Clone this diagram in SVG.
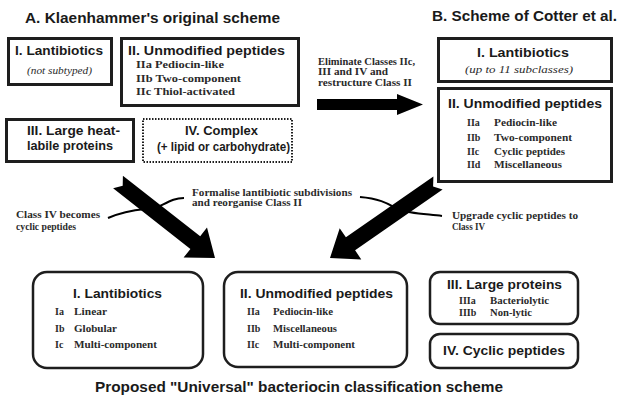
<svg xmlns="http://www.w3.org/2000/svg" width="620" height="399" viewBox="0 0 620 399">
<style>
.bg{fill:#fff}
.box{fill:#fff;stroke:#1e1e1e;stroke-width:3}
.dot{fill:#fff;stroke:#1e1e1e;stroke-width:2;stroke-dasharray:1.5 1.5}
.rbox{fill:#fff;stroke:#1e1e1e;stroke-width:2.5}
.h{font-family:"Liberation Sans",Arial,sans-serif;font-weight:bold;font-size:15px;fill:#1a1a1a}
.t{font-family:"Liberation Sans",Arial,sans-serif;font-weight:bold;font-size:13.5px;fill:#1a1a1a}
.s{font-family:"Liberation Serif","Times New Roman",serif;font-weight:bold;font-size:10px;fill:#2a2a2a}
.it{font-family:"Liberation Serif","Times New Roman",serif;font-style:italic;font-size:10px;fill:#2a2a2a}
.a{font-family:"Liberation Serif","Times New Roman",serif;font-weight:bold;font-size:9.5px;fill:#2a2a2a}
.arr{fill:#000}
.cur{fill:none;stroke:#000;stroke-width:2}
</style>
<rect class="bg" x="0" y="0" width="620" height="399"/>
<text class="h" x="25" y="23" textLength="255" lengthAdjust="spacingAndGlyphs">A. Klaenhammer's original scheme</text>
<text class="h" x="432" y="21" textLength="185" lengthAdjust="spacingAndGlyphs">B. Scheme of Cotter et al.</text>
<text class="h" x="95" y="392" textLength="408" lengthAdjust="spacingAndGlyphs">Proposed "Universal" bacteriocin classification scheme</text>

<g id="connectors">
<path class="cur" d="M108,218 C135,206 150,211 160,206 S175,198 184,198"/>
<path class="cur" d="M360,197 C385,199 392,207 400,210 S425,214 442,216"/>
<polygon class="arr" points="317,99 397,99 397,94 423,104.5 397,115 397,110 317,110"/>
<polygon class="arr" points="122.9,175.7 200.2,236.3 207,227.6 215,258 183.6,257.6 190.4,248.9 113.1,188.3 122.7,185.7"/>
<polygon class="arr" points="433.4,176.4 345.9,237.2 339.7,228.2 330,258 361.3,259.4 355.1,250.3 442.6,189.6 433.1,186.4"/>
<text class="a" x="318" y="65" textLength="97" lengthAdjust="spacingAndGlyphs">Eliminate Classes IIc,</text>
<text class="a" x="318" y="75" textLength="70" lengthAdjust="spacingAndGlyphs">III and IV and</text>
<text class="a" x="318" y="86" textLength="94" lengthAdjust="spacingAndGlyphs">restructure Class II</text>
<text class="a" x="192" y="196" textLength="160" lengthAdjust="spacingAndGlyphs">Formalise lantibiotic subdivisions</text>
<text class="a" x="192" y="206" textLength="110" lengthAdjust="spacingAndGlyphs">and reorganise Class II</text>
<text class="a" x="16" y="218" textLength="84" lengthAdjust="spacingAndGlyphs">Class IV becomes</text>
<text class="a" x="16" y="230" textLength="60" lengthAdjust="spacingAndGlyphs">cyclic peptides</text>
<text class="a" x="452" y="219" textLength="126" lengthAdjust="spacingAndGlyphs">Upgrade cyclic peptides to</text>
<text class="a" x="452" y="230" textLength="33" lengthAdjust="spacingAndGlyphs">Class IV</text>
</g>

<g id="a-lantibiotics">
<rect class="box" x="8.5" y="38.5" width="103" height="46"/>
<text class="t" x="15" y="55" textLength="88" lengthAdjust="spacingAndGlyphs">I. Lantibiotics</text>
<text class="it" x="27" y="74" textLength="65" lengthAdjust="spacingAndGlyphs">(not subtyped)</text>
</g>
<g id="a-unmodified">
<rect class="box" x="121.5" y="38.5" width="177" height="67"/>
<text class="t" x="128" y="55" textLength="157" lengthAdjust="spacingAndGlyphs">II. Unmodified peptides</text>
<text class="s" x="136" y="68" textLength="88" lengthAdjust="spacingAndGlyphs">IIa Pediocin-like</text>
<text class="s" x="136" y="82" textLength="105" lengthAdjust="spacingAndGlyphs">IIb Two-component</text>
<text class="s" x="136" y="95" textLength="99" lengthAdjust="spacingAndGlyphs">IIc Thiol-activated</text>
</g>
<g id="a-large">
<rect class="box" x="6.5" y="119.5" width="127" height="42"/>
<text class="t" x="27" y="135" textLength="93" lengthAdjust="spacingAndGlyphs">III. Large heat-</text>
<text class="t" x="27" y="150" textLength="86" lengthAdjust="spacingAndGlyphs">labile proteins</text>
</g>
<g id="a-complex">
<rect class="dot" x="143" y="119" width="149" height="43"/>
<text class="t" x="185" y="135" textLength="73" lengthAdjust="spacingAndGlyphs">IV. Complex</text>
<text class="t" x="157" y="151" textLength="133" lengthAdjust="spacingAndGlyphs">(+ lipid or carbohydrate)</text>
</g>

<g id="b-lantibiotics">
<rect class="box" x="438.5" y="38.5" width="173" height="43"/>
<text class="t" x="477" y="57" textLength="92" lengthAdjust="spacingAndGlyphs">I. Lantibiotics</text>
<text class="it" x="465" y="73" textLength="108" lengthAdjust="spacingAndGlyphs">(up to 11 subclasses)</text>
</g>
<g id="b-unmodified">
<rect class="box" x="438.5" y="88.5" width="173" height="93"/>
<text class="t" x="448" y="108" textLength="154" lengthAdjust="spacingAndGlyphs">II. Unmodified peptides</text>
<text class="s" x="467" y="126">IIa</text><text class="s" x="494" y="126" textLength="63" lengthAdjust="spacingAndGlyphs">Pediocin-like</text>
<text class="s" x="467" y="141">IIb</text><text class="s" x="494" y="141" textLength="78" lengthAdjust="spacingAndGlyphs">Two-component</text>
<text class="s" x="467" y="155">IIc</text><text class="s" x="494" y="155" textLength="71" lengthAdjust="spacingAndGlyphs">Cyclic peptides</text>
<text class="s" x="467" y="168">IId</text><text class="s" x="494" y="168" textLength="68" lengthAdjust="spacingAndGlyphs">Miscellaneous</text>
</g>

<g id="u-lantibiotics">
<rect class="rbox" x="33" y="272" width="170" height="96" rx="14"/>
<text class="t" x="73" y="298" textLength="89" lengthAdjust="spacingAndGlyphs">I. Lantibiotics</text>
<text class="s" x="55" y="315">Ia</text><text class="s" x="74" y="315" textLength="33" lengthAdjust="spacingAndGlyphs">Linear</text>
<text class="s" x="55" y="332">Ib</text><text class="s" x="74" y="332" textLength="43" lengthAdjust="spacingAndGlyphs">Globular</text>
<text class="s" x="55" y="348">Ic</text><text class="s" x="74" y="348" textLength="83" lengthAdjust="spacingAndGlyphs">Multi-component</text>
</g>
<g id="u-unmodified">
<rect class="rbox" x="224" y="272" width="183" height="95" rx="14"/>
<text class="t" x="240" y="298" textLength="153" lengthAdjust="spacingAndGlyphs">II. Unmodified peptides</text>
<text class="s" x="247" y="315">IIa</text><text class="s" x="273" y="315" textLength="60" lengthAdjust="spacingAndGlyphs">Pediocin-like</text>
<text class="s" x="247" y="332">IIb</text><text class="s" x="273" y="332" textLength="64" lengthAdjust="spacingAndGlyphs">Miscellaneous</text>
<text class="s" x="247" y="348">IIc</text><text class="s" x="273" y="348" textLength="82" lengthAdjust="spacingAndGlyphs">Multi-component</text>
</g>
<g id="u-large">
<rect class="rbox" x="430" y="272" width="148" height="52" rx="10"/>
<text class="t" x="447" y="289" textLength="115" lengthAdjust="spacingAndGlyphs">III. Large proteins</text>
<text class="s" x="459" y="304">IIIa</text><text class="s" x="490" y="304" textLength="59" lengthAdjust="spacingAndGlyphs">Bacteriolytic</text>
<text class="s" x="459" y="316">IIIb</text><text class="s" x="490" y="316" textLength="42" lengthAdjust="spacingAndGlyphs">Non-lytic</text>
</g>
<g id="u-cyclic">
<rect class="rbox" x="430" y="334" width="148" height="34" rx="10"/>
<text class="t" x="443" y="355" textLength="122" lengthAdjust="spacingAndGlyphs">IV. Cyclic peptides</text>
</g>
</svg>
